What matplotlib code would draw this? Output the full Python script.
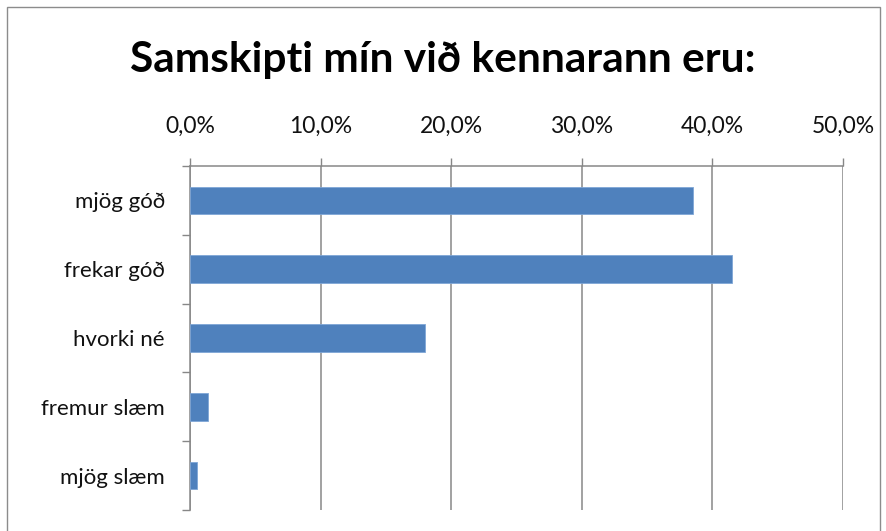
import numpy as np
import matplotlib
matplotlib.use("Agg")
import matplotlib.pyplot as plt
from matplotlib.patches import Rectangle
from matplotlib.ticker import FuncFormatter

# Data
categories = ["mjög góð", "frekar góð", "hvorki né", "fremur slæm", "mjög slæm"]
values = [38.5, 41.5, 18.0, 1.4, 0.5]
x_ticks = [0, 10, 20, 30, 40, 50]
title = "Samskipti mín við kennarann eru:"

W, H = 887, 531
plt.rcParams['font.family'] = ['Lato', 'DejaVu Sans']
grid_col = "#878787"

fig = plt.figure(figsize=(W / 100, H / 100), dpi=100)
ax = fig.add_axes([190 / W, 1 - 510 / H, (843 - 190) / W, (510 - 166) / H])

y = np.arange(len(categories))
ax.barh(y, values, height=0.4, color="#4F81BD", edgecolor="#7FA6D6", linewidth=0.6, zorder=3)
ax.set_xlim(0, 50)
ax.set_ylim(len(categories) - 0.5, -0.5)

# x axis on top
ax.xaxis.tick_top()
ax.set_xticks(x_ticks)
ax.xaxis.set_major_formatter(FuncFormatter(lambda v, p: f"{v:.1f}%".replace(".", ",")))
ax.tick_params(axis="x", which="major", length=6, width=1.0, color=grid_col,
               labelsize=16.5, pad=15, labelcolor="#111111")
ax.grid(axis="x", color=grid_col, linewidth=1.1, zorder=0)

# category boundaries as major ticks, labels on minor ticks
ax.set_yticks(np.arange(len(categories) + 1) - 0.5)
ax.set_yticklabels([])
ax.set_yticks(y, minor=True)
ax.set_yticklabels(categories, minor=True)
ax.tick_params(axis="y", which="major", length=6, width=1.0, color=grid_col)
ax.tick_params(axis="y", which="minor", length=0, labelsize=16, pad=18, labelcolor="#111111")

for s in ["right", "bottom"]:
    ax.spines[s].set_visible(False)
for s in ["top", "left"]:
    ax.spines[s].set_color(grid_col)
    ax.spines[s].set_linewidth(1.1)

fig.text(443 / W, 1 - 60 / H, title, ha="center", va="center",
         fontsize=30.5, fontweight="bold", color="#000000")

# outer chart border (bottom edge falls outside the picture)
fig.patches.append(Rectangle((7 / W, -0.02), (880 - 7) / W, 1.02 - 7 / H,
                             transform=fig.transFigure, fill=False,
                             edgecolor="#8C8C8C", linewidth=1.0))

fig.savefig("out.png", dpi=100, facecolor="white")
